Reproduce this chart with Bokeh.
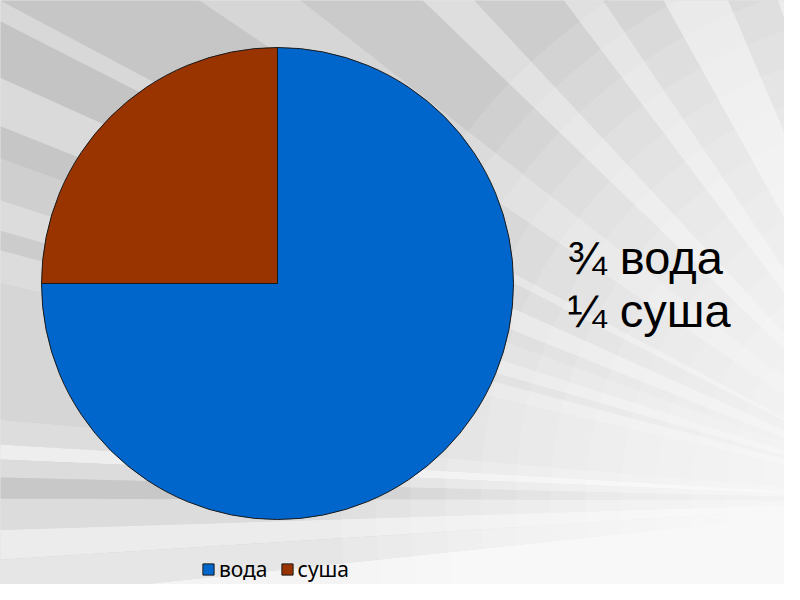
import math
from bokeh.plotting import figure
from bokeh.models import Range1d, Legend, LegendItem, ColumnDataSource
from bokeh.core.properties import value
from bokeh.embed import file_html
from bokeh.resources import INLINE

# ---- data ----
categories = ["вода", "суша"]
shares = [0.75, 0.25]
colors = ["#0066CC", "#993300"]
summary_labels = ["¾ вода", "¼ суша"]

W, H = 784, 584
# data space = pixels, y up
p = figure(width=W, height=H, output_backend="svg", toolbar_location=None,
           x_range=Range1d(0, W), y_range=Range1d(0, H), min_border=0,
           background_fill_color="#cbcbcb", border_fill_color="#cbcbcb")
p.axis.visible = False
p.grid.visible = False
p.outline_line_color = None

# ---- decorative ray background (slide backdrop) ----
fx, fy = 940, 84
rays = [(95, 103, "#d8d8d8"), (103, 106, "#c2c2c2"), (106, 108, "#e6e6e6"),
        (108, 113, "#d2d2d2"), (113, 119, "#e4e4e4"), (119, 124, "#d0d0d0"),
        (124, 127, "#e0e0e0"), (127, 133, "#cdcdcd"), (133, 136, "#dedede"),
        (136, 142, "#cacaca"), (142, 146, "#d6d6d6"), (146, 152, "#c6c6c6"),
        (152, 153, "#d8d8d8"), (153, 155.8, "#c4c4c4"), (155.8, 158.3, "#dadada"),
        (158.3, 160, "#c6c6c6"), (160, 162.3, "#cfcfcf"), (162.3, 164, "#dcdcdc"),
        (164, 165.1, "#cccccc"), (165.1, 167, "#dcdcdc"), (167, 175.1, "#d6d6d6"),
        (175.1, 176.6, "#dddddd"), (176.6, 177.5, "#eeeeee"), (177.5, 178.6, "#dcdcdc"),
        (178.6, 179.9, "#c8c8c8"), (179.9, 181.8, "#dcdcdc"), (181.8, 183.6, "#ececec"),
        (183.6, 186, "#e6e6e6"), (186, 210, "#f4f4f4")]
p.wedge(x=[fx] * len(rays), y=[fy] * len(rays), radius=1800,
        start_angle=[math.radians(a) for a, b, c in rays],
        end_angle=[math.radians(b) for a, b, c in rays],
        fill_color=[c for a, b, c in rays], line_color=None)
glow_r = list(range(600, 40, -35))
p.circle(x=[fx] * len(glow_r), y=[fy] * len(glow_r), radius=glow_r,
         fill_color="white", fill_alpha=0.12, line_color=None)

# ---- pie ----
cx, cy, r = 277, 301, 236
starts, ends = [], []
cum = 0.0
for s in shares:
    ends.append(math.pi / 2 - cum * 2 * math.pi)
    cum += s
    starts.append(math.pi / 2 - cum * 2 * math.pi)
src = ColumnDataSource(dict(x=[cx] * len(shares), y=[cy] * len(shares),
                            start=starts, end=ends, color=colors, cat=categories))
pie = p.wedge(x="x", y="y", radius=r, start_angle="start", end_angle="end",
              fill_color="color", line_color="#1a1a1a", line_width=1, source=src)

# ---- summary text ----
p.text(x=[567, 567], y=[327, 274], text=summary_labels,
       text_font=value("Liberation Sans"), text_font_size="47px",
       text_color="black", text_baseline="alphabetic", text_align="left")

# ---- legend ----
legend = Legend(items=[LegendItem(label=c, renderers=[pie], index=i)
                       for i, c in enumerate(categories)],
                orientation="horizontal", location=(201, 1),
                glyph_width=14, glyph_height=14, label_standoff=4, spacing=12,
                padding=0, margin=0, background_fill_alpha=0, border_line_color=None,
                label_text_font="Noto Sans", label_text_font_size="21px",
                label_text_color="black")
p.add_layout(legend)

open("out.html", "w").write(file_html(p, INLINE))
